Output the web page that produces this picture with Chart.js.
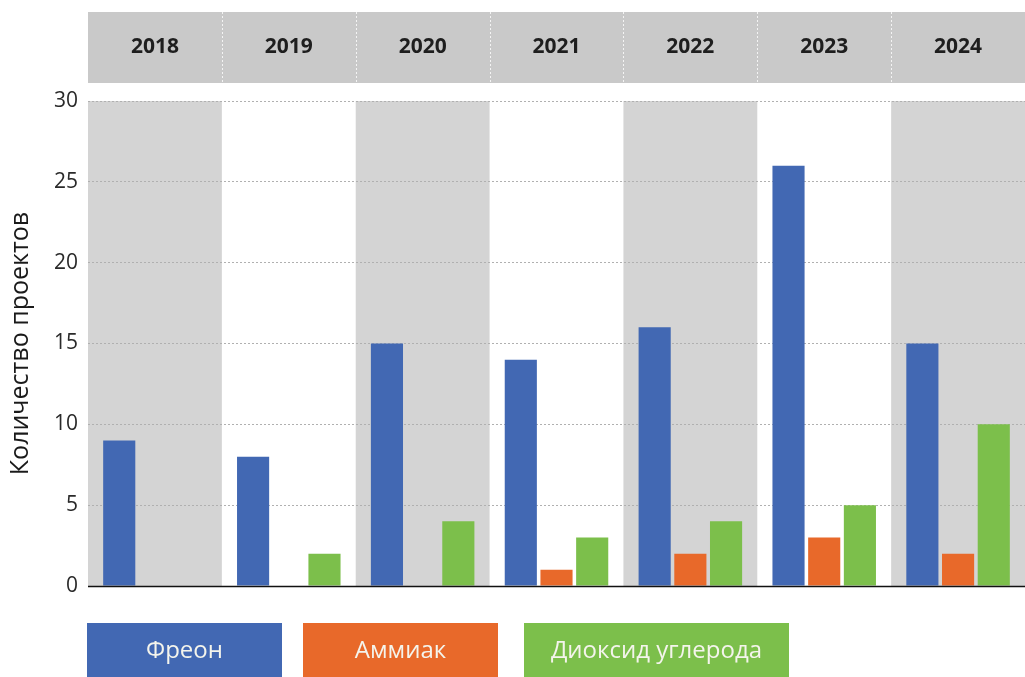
<!DOCTYPE html>
<html>
<head>
<meta charset="utf-8">
<script src="https://cdn.jsdelivr.net/npm/chart.js@4.4.1/dist/chart.umd.min.js"></script>
<style>
  html, body { margin: 0; padding: 0; background: #fff; }
  #wrap { width: 1025px; height: 677px; position: relative; }
</style>
</head>
<body>
<div id="wrap"><canvas id="projects"></canvas></div>
<script>
var years = ['2018', '2019', '2020', '2021', '2022', '2023', '2024'];
var freon = [9, 8, 15, 14, 16, 26, 15];
var ammonia = [0, 0, 0, 1, 2, 3, 2];
var co2 = [0, 2, 4, 3, 4, 5, 10];
var seriesNames = ['Фреон', 'Аммиак', 'Диоксид углерода'];
var seriesColors = ['#4268b3', '#e8692a', '#7cbf4b'];
var yTicks = [0, 5, 10, 15, 20, 25, 30];

var condensed = "'Liberation Sans Narrow', 'Open Sans', sans-serif";

// gray bands, header strip, zero line, legend boxes
var decor = {
  id: 'decor',
  beforeDraw: function (chart) {
    var c = chart.ctx, a = chart.chartArea;
    var step = (a.right - a.left) / years.length;
    c.save();
    c.fillStyle = '#c9c9c9';
    c.fillRect(a.left, 12, a.right - a.left, 71);
    for (var i = 0; i < years.length; i++) {
      if (i % 2 === 0) {
        c.fillStyle = '#d4d4d4';
        c.fillRect(a.left + i * step, a.top, step, a.bottom - a.top);
      }
    }
    c.strokeStyle = 'rgba(255,255,255,0.8)';
    c.setLineDash([2, 2]);
    c.lineWidth = 1;
    for (var j = 1; j < years.length; j++) {
      var px = Math.round(a.left + j * step) + 0.5;
      c.beginPath();
      c.moveTo(px, 12);
      c.lineTo(px, 83);
      c.stroke();
    }
    c.restore();
  },
  afterDraw: function (chart) {
    var c = chart.ctx, a = chart.chartArea;
    var y0 = Math.round(chart.scales.y.getPixelForValue(0)) + 0.5;
    c.save();
    c.strokeStyle = '#111';
    c.lineWidth = 1.5;
    c.beginPath();
    c.moveTo(a.left, y0);
    c.lineTo(a.right, y0);
    c.stroke();

    var widths = [195, 195, 265];
    var gap = [0, 21, 26];
    var lx = a.left - 1;
    c.font = '24px ' + condensed;
    c.textAlign = 'center';
    c.textBaseline = 'middle';
    for (var k = 0; k < seriesNames.length; k++) {
      lx += gap[k];
      c.fillStyle = seriesColors[k];
      c.fillRect(lx, 623, widths[k], 54);
      c.fillStyle = '#f4f4ec';
      c.fillText(seriesNames[k], lx + widths[k] / 2, 651);
      lx += widths[k];
    }
    c.restore();
  }
};

var ctx = document.getElementById('projects').getContext('2d');
var projectsChart = new Chart(ctx, {
  type: 'bar',
  data: {
    labels: years,
    datasets: [
      { label: seriesNames[0], data: freon, backgroundColor: seriesColors[0] },
      { label: seriesNames[1], data: ammonia, backgroundColor: seriesColors[1] },
      { label: seriesNames[2], data: co2, backgroundColor: seriesColors[2] }
    ]
  },
  options: {
    responsive: true,
    maintainAspectRatio: false,
    animation: false,
    categoryPercentage: 0.8,
    barPercentage: 0.9,
    layout: { padding: { top: 0, right: 0, bottom: 91, left: 0 } },
    plugins: {
      legend: { display: false },
      tooltip: { enabled: false }
    },
    scales: {
      x: {
        position: 'top',
        grid: { display: false, drawTicks: false },
        border: { display: false },
        ticks: {
          color: '#1e1e1e',
          padding: 41,
          font: { family: "'Open Sans', sans-serif", size: 21, weight: 'bold' }
        },
        afterFit: function (s) { s.height = 101; }
      },
      y: {
        min: 0,
        max: 30,
        afterBuildTicks: function (s) {
          s.ticks = yTicks.map(function (v) { return { value: v }; });
        },
        grid: { color: '#b0b0b0', drawTicks: false },
        border: { display: false, dash: [2, 2] },
        ticks: {
          color: '#2a2a2a',
          padding: 10,
          font: { family: "'Open Sans', sans-serif", size: 21 }
        },
        title: {
          display: true,
          text: 'Количество проектов',
          color: '#1a1a1a',
          padding: { top: 6, bottom: 0 },
          font: { family: "'Open Sans', sans-serif", size: 25 }
        },
        afterFit: function (s) { s.width = 88; }
      }
    }
  },
  plugins: [decor]
});
</script>
</body>
</html>
